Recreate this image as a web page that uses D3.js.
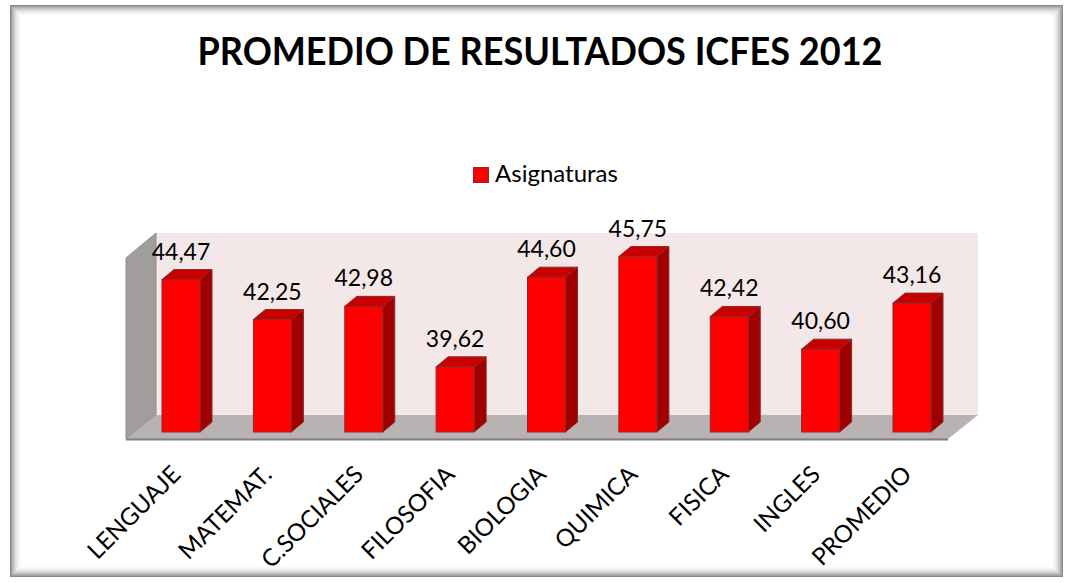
<!DOCTYPE html>
<html>
<head>
<meta charset="utf-8">
<script src="https://cdn.jsdelivr.net/npm/d3@7"></script>
<style>
  html, body { margin: 0; padding: 0; background: #fff; }
  svg { display: block; }
  text { font-family: Lato, "Open Sans", "Liberation Sans", sans-serif; fill: #000; }
</style>
</head>
<body>
<svg id="chart" width="1074" height="583"></svg>
<script>
// chart data
var categories = ['LENGUAJE', 'MATEMAT.', 'C.SOCIALES', 'FILOSOFIA', 'BIOLOGIA',
                  'QUIMICA', 'FISICA', 'INGLES', 'PROMEDIO'];
var values = [44.47, 42.25, 42.98, 39.62, 44.60, 45.75, 42.42, 40.60, 43.16];
var seriesName = 'Asignaturas';
var chartTitle = 'PROMEDIO DE RESULTADOS ICFES 2012';
var yDomain = [36, 47];

var svg = d3.select('#chart');

// outer frame with soft inner shadow
var frame = svg.append('g');
frame.append('rect').attr('x', 10).attr('y', 5).attr('width', 1053).attr('height', 572)
  .attr('fill', '#fff');
for (var i = 0; i < 12; i++) {
  frame.append('rect')
    .attr('x', 10 + i + 0.5).attr('y', 5 + i + 0.5)
    .attr('width', 1053 - 2 * i - 1).attr('height', 572 - 2 * i - 1)
    .attr('fill', 'none')
    .attr('stroke', '#6e6e6e')
    .attr('stroke-opacity', Math.pow(1 - i / 12, 2.2) * 0.8);
}

// scales
var x = d3.scalePoint().domain(categories).range([181, 912]);
var y = d3.scaleLinear().domain(yDomain).range([432, 234]);
var barW = 38, depthX = 12, depthY = 10;   // bar box depth
var wallDX = 30, wallDY = 24;              // floor / wall depth

var left = 126, right = 948, floorFront = 439;
var backTop = y(yDomain[1]) - 1, floorBack = floorFront - wallDY;

// back wall
svg.append('rect')
  .attr('x', left + wallDX).attr('y', backTop)
  .attr('width', right - left).attr('height', floorBack - backTop)
  .attr('fill', '#f4e7e7');

// side wall
svg.append('path')
  .attr('d', d3.line()([[left, backTop + wallDY + 1], [left + wallDX, backTop],
                        [left + wallDX, floorBack], [left, floorFront]]) + 'Z')
  .attr('fill', '#a19d9d').attr('stroke', '#8f8a8a').attr('stroke-width', 1);

// floor
svg.append('path')
  .attr('d', d3.line()([[left, floorFront], [left + wallDX, floorBack],
                        [right + wallDX, floorBack], [right, floorFront]]) + 'Z')
  .attr('fill', '#b9b2b2');
svg.append('line')
  .attr('x1', left).attr('x2', right).attr('y1', floorFront + 0.5).attr('y2', floorFront + 0.5)
  .attr('stroke', '#7f7f7f').attr('stroke-width', 2);

// bars
var bars = svg.append('g').selectAll('g').data(values).enter().append('g');
bars.each(function(v, i) {
  var g = d3.select(this);
  var x0 = x(categories[i]) - barW / 2, x1 = x0 + barW;
  var top = y(v), base = y(yDomain[0]);
  // side face
  g.append('path')
    .attr('d', d3.line()([[x1, top], [x1 + depthX, top - depthY],
                          [x1 + depthX, base - depthY], [x1, base]]) + 'Z')
    .attr('fill', '#a00000').attr('stroke', '#8a2a2a').attr('stroke-width', 1);
  // top face
  g.append('path')
    .attr('d', d3.line()([[x0, top], [x0 + depthX, top - depthY],
                          [x1 + depthX, top - depthY], [x1, top]]) + 'Z')
    .attr('fill', '#c80000').attr('stroke', '#8a2a2a').attr('stroke-width', 1);
  // front face
  g.append('rect')
    .attr('x', x0).attr('y', top).attr('width', barW).attr('height', base - top)
    .attr('fill', '#ff0000').attr('stroke', '#8a2a2a').attr('stroke-width', 1);
});

// value labels
svg.append('g').selectAll('text').data(values).enter().append('text')
  .attr('x', function(d, i) { return x(categories[i]); })
  .attr('y', function(d) { return y(d) - 20; })
  .attr('text-anchor', 'middle')
  .style('font-size', '23px')
  .text(function(d) { return d3.format('.2f')(d).replace('.', ','); });

// category labels
svg.append('g').selectAll('text').data(categories).enter().append('text')
  .attr('transform', function(d) { return 'translate(' + (x(d) + 1) + ',476) rotate(-45)'; })
  .attr('text-anchor', 'end')
  .style('font-size', '24px')
  .text(function(d) { return d; });

// legend
var legend = svg.append('g');
legend.append('rect').attr('x', 473.5).attr('y', 167.5).attr('width', 15).attr('height', 15)
  .attr('fill', '#ff0000').attr('stroke', '#8a2a2a');
legend.append('text').attr('x', 495).attr('y', 182)
  .style('font-size', '24px').text(seriesName);

// title
svg.append('text')
  .attr('x', 540).attr('y', 65)
  .attr('text-anchor', 'middle')
  .attr('textLength', 685).attr('lengthAdjust', 'spacingAndGlyphs')
  .style('font-size', '39px').style('font-weight', 'bold')
  .text(chartTitle);
</script>
</body>
</html>
